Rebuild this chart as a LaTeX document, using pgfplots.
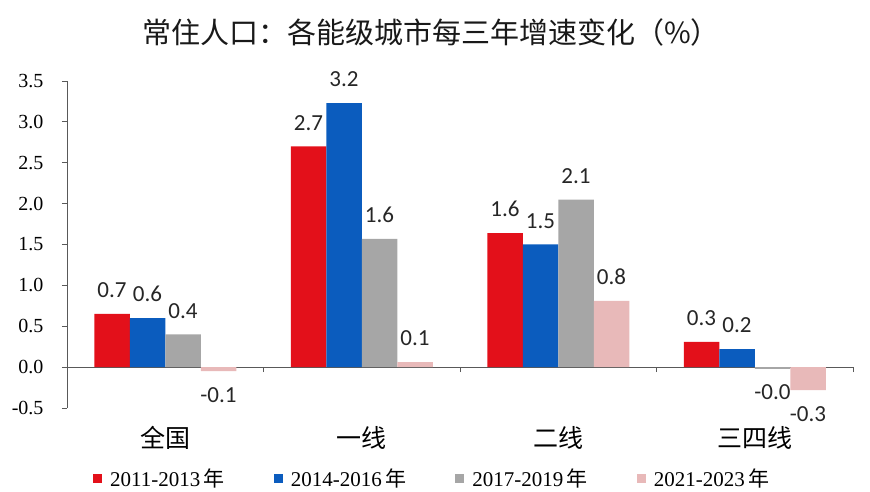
\documentclass[border=0pt]{standalone}
\usepackage{fontspec}
\setmainfont{Liberation Serif}
\newfontfamily\cjk{Noto Sans CJK SC}
\newfontfamily\lbl{Carlito}
\usepackage{pgfplots}
\pgfplotsset{compat=1.18}
\definecolor{cred}{HTML}{E3101A}
\definecolor{cblue}{HTML}{0B5CBE}
\definecolor{cgray}{HTML}{A6A6A6}
\definecolor{cpink}{HTML}{E8B9B9}
\definecolor{axisgray}{HTML}{595959}
\begin{document}
\begin{tikzpicture}[x=1pt,y=1pt]
\useasboundingbox (0,0) rectangle (870,492);
\node[font=\cjk\fontsize{29}{29}\selectfont, text=black!90] at (431,460) {常住人口：各能级城市每三年增速变化（\%）};
\begin{axis}[
  at={(67pt,84pt)}, anchor=south west,
  scale only axis, width=786pt, height=327pt,
  xmin=-0.5, xmax=3.5, ymin=-0.5, ymax=3.5,
  clip=false,
  axis y line*=left, axis x line*=middle,
  axis line style={axisgray, line width=0.8pt, -},
  tick style={axisgray, line width=0.8pt},
  tick align=outside, major tick length=5pt,
  xtick={-0.5,0.5,1.5,2.5,3.5}, xticklabels={},
  ytick={-0.5,0,0.5,1,1.5,2,2.5,3,3.5},
  yticklabel style={font=\fontsize{20}{20}\selectfont, xshift=-15pt},
  /pgf/number format/assume math mode=true,
  /pgf/number format/.cd, fixed, fixed zerofill, precision=1, /pgfplots/.cd,
  ybar=0pt, bar width=35.5pt,
  point meta=explicit symbolic,
  nodes near coords,
  visualization depends on={rawy \as \yv},
  every node near coord/.append style={font=\lbl\fontsize{23}{23}\selectfont, text=black!85, inner ysep=16pt, inner xsep=0pt,
    /utils/exec={\pgfmathparse{\yv<0}\ifnum\pgfmathresult=1 \def\myanchor{north}\else\def\myanchor{south}\fi},
    anchor=\myanchor},
  legend columns=4,
  legend style={at={(0.033,-0.216)}, anchor=west, draw=none, inner sep=0pt,
    font=\fontsize{21}{21}\selectfont,
    /tikz/every odd column/.append style={column sep=6pt},
    /tikz/every even column/.append style={column sep=47pt}},
  legend image code/.code={\fill[#1] (0pt,-4.5pt) rectangle (9pt,4.5pt);},
]
\addplot[fill=cred, draw=none] coordinates {(0,0.65)[0.7] (1,2.70)[2.7] (2,1.64)[1.6] (3,0.31)[0.3]};
\addplot[fill=cblue, draw=none] coordinates {(0,0.60)[0.6] (1,3.23)[3.2] (2,1.50)[1.5] (3,0.22)[0.2]};
\addplot[fill=cgray, draw=none] coordinates {(0,0.40)[0.4] (1,1.57)[1.6] (2,2.05)[2.1] (3,-0.02)[-0.0]};
\addplot[fill=cpink, draw=none] coordinates {(0,-0.05)[-0.1] (1,0.06)[0.1] (2,0.81)[0.8] (3,-0.28)[-0.3]};
\legend{2011-2013\,{\cjk 年}, 2014-2016\,{\cjk 年}, 2017-2019\,{\cjk 年}, 2021-2023\,{\cjk 年}}
\node[font=\cjk\fontsize{25}{25}\selectfont] at (axis cs:0,-0.5) [yshift=-30pt] {全国};
\node[font=\cjk\fontsize{25}{25}\selectfont] at (axis cs:1,-0.5) [yshift=-30pt] {一线};
\node[font=\cjk\fontsize{25}{25}\selectfont] at (axis cs:2,-0.5) [yshift=-30pt] {二线};
\node[font=\cjk\fontsize{25}{25}\selectfont] at (axis cs:3,-0.5) [yshift=-30pt] {三四线};
\end{axis}
\end{tikzpicture}
\end{document}
